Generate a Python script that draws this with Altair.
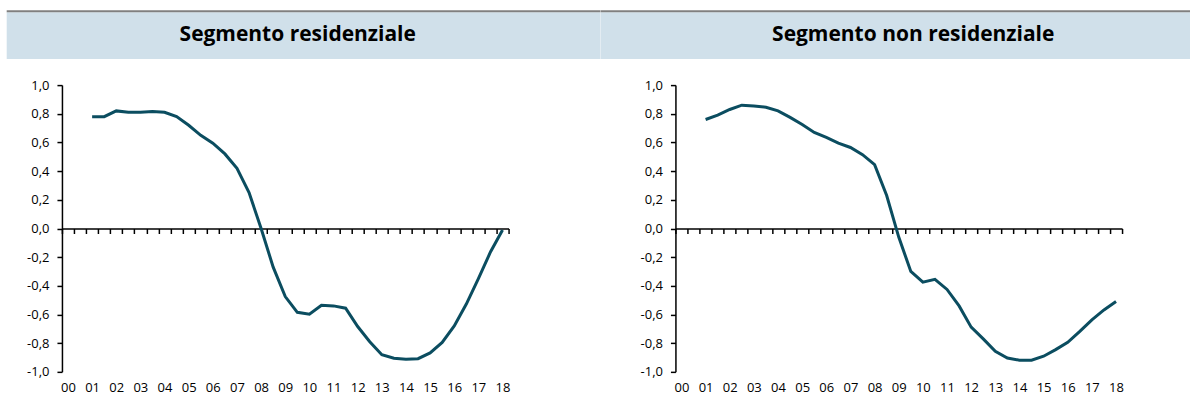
import altair as alt
import pandas as pd

# half-year periods from 2001 H1 to 2018 H1
periods = [f"{y:02d}H{h}" for y in range(1, 19) for h in (1, 2)][:-1]

residenziale = [0.78, 0.78, 0.82, 0.81, 0.81, 0.815, 0.81, 0.78, 0.72, 0.65,
                0.595, 0.52, 0.42, 0.25, 0.00, -0.27, -0.475, -0.585, -0.598, -0.535,
                -0.54, -0.556, -0.684, -0.79, -0.88, -0.905, -0.912, -0.908, -0.868, -0.795,
                -0.68, -0.527, -0.35, -0.164, -0.01]

non_residenziale = [0.76, 0.79, 0.83, 0.86, 0.855, 0.845, 0.82, 0.775, 0.725, 0.67,
                    0.635, 0.595, 0.565, 0.515, 0.445, 0.23, -0.06, -0.30, -0.374, -0.355,
                    -0.425, -0.54, -0.688, -0.77, -0.857, -0.903, -0.919, -0.919, -0.891, -0.845,
                    -0.794, -0.718, -0.637, -0.568, -0.51]

year_labels = [f"{y:02d}" for y in range(0, 19)]
y_ticks = [-1.0, -0.8, -0.6, -0.4, -0.2, 0.0, 0.2, 0.4, 0.6, 0.8, 1.0]
titles = ["Segmento residenziale", "Segmento non residenziale"]

LINE = "#0B4D60"
BLUE = "#D0E0EA"
GRAY = "#808080"
FONT = "Open Sans"
W, H = 447, 287
N_CAT = 37


def cat_index(p):
    y = int(p[:2])
    h = int(p[3])
    return y * 2 + (h - 1)


label_arr = "[" + ",".join(f"'{s}'" for s in year_labels) + "]"


def panel(values, title, title_x, hx1, hx2):
    df = pd.DataFrame({
        "x": [cat_index(p) + 0.5 for p in periods],
        "v": values,
    })
    line = alt.Chart(df).mark_line(color=LINE, strokeWidth=3).encode(
        x=alt.X("x:Q",
                scale=alt.Scale(domain=[0, N_CAT], nice=False, zero=False),
                axis=alt.Axis(values=list(range(N_CAT + 1)), offset=-H / 2,
                              domainColor="black", domainWidth=1.5,
                              tickColor="black", tickWidth=1.5, tickSize=5,
                              labelExpr=f"(datum.value % 2 == 0 && datum.value < {N_CAT}) ? {label_arr}[datum.value / 2] : ''",
                              labelPadding=148, labelOffset=6, labelAlign="center",
                              labelBaseline="top", labelFont=FONT, labelFontSize=13,
                              labelColor="black", labelFlush=False, labelOverlap=False,
                              labelBound=False, grid=False, title=None)),
        y=alt.Y("v:Q",
                scale=alt.Scale(domain=[-1, 1], nice=False),
                axis=alt.Axis(values=y_ticks,
                              labelExpr="replace((datum.value < -0.001 ? '-' : '') + format(abs(datum.value), '.1f'), '.', ',')",
                              domainColor="black", domainWidth=1.5,
                              tickColor="black", tickWidth=1.5, tickSize=5,
                              labelPadding=8, labelFont=FONT, labelFontSize=13,
                              labelColor="black", grid=False, title=None)),
    )
    one = pd.DataFrame({"a": [0]})
    band = alt.Chart(one).mark_rect(color=BLUE).encode(
        x=alt.value(hx1), x2=alt.value(hx2), y=alt.value(-73), y2=alt.value(-26))
    top = alt.Chart(one).mark_rect(color=GRAY).encode(
        x=alt.value(hx1), x2=alt.value(hx2), y=alt.value(-75), y2=alt.value(-73))
    txt = alt.Chart(one).mark_text(font=FONT, fontSize=21, fontWeight="bold",
                                   color="black", align="center", baseline="middle").encode(
        x=alt.value(title_x), y=alt.value(-50), text=alt.value(title))
    return alt.layer(band, top, txt, line).properties(width=W, height=H)


p1 = panel(residenziale, titles[0], 236, -55.3, 600 - 61.3)
p2 = panel(non_residenziale, titles[1], 238, 600 - 675, 1190 - 675)

chart = alt.hconcat(p1, p2, spacing=167, bounds="flush").properties(
    padding={"left": 6, "top": 10, "right": 0, "bottom": 8},
    background="white",
).configure_view(stroke=None)

chart.save("out.html", embed_options={"renderer": "svg", "actions": False})
